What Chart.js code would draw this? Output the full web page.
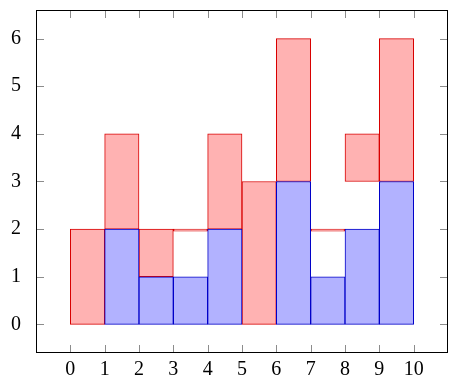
<!DOCTYPE html>
<html>
<head>
<meta charset="utf-8">
<script src="https://cdn.jsdelivr.net/npm/chart.js@4/dist/chart.umd.min.js"></script>
<style>
  html, body { margin: 0; padding: 0; background: #fff; }
  canvas { display: block; }
</style>
</head>
<body>
<canvas id="chart" width="460" height="386"></canvas>
<script>
// Interval starts (each bar covers [start, start + 1])
const intervals = [0, 1, 2, 3, 4, 5, 6, 7, 8, 9];

// Blue series heights
const blueValues = [0, 2, 1, 1, 2, 0, 3, 1, 2, 3];

// Red series as drawn: bottom and top of each interval
const redBottom = [0, 2, 1, 2, 2, 0, 3, 2, 3, 3];
const redTop    = [2, 4, 2, 2, 4, 3, 6, 2, 4, 6];

// Tick labels
const xTicks = [0, 1, 2, 3, 4, 5, 6, 7, 8, 9, 10];
const yTicks = [0, 1, 2, 3, 4, 5, 6];

const FONT = { family: "'Liberation Serif', 'DejaVu Serif', serif", size: 20 };

// Frame and inward tick marks on all four sides, like pgfplots
const framePlugin = {
  id: 'frame',
  afterDatasetsDraw(chart) {
    const { ctx, chartArea: a, scales: { x, y } } = chart;
    const len = 8;
    ctx.save();
    ctx.lineWidth = 1;
    ctx.strokeStyle = '#8c8c8c';
    ctx.beginPath();
    xTicks.forEach(v => {
      const px = Math.round(x.getPixelForValue(v)) + 0.5;
      ctx.moveTo(px, a.bottom); ctx.lineTo(px, a.bottom - len);
      ctx.moveTo(px, a.top); ctx.lineTo(px, a.top + len);
    });
    yTicks.forEach(v => {
      const py = Math.round(y.getPixelForValue(v)) + 0.5;
      ctx.moveTo(a.left, py); ctx.lineTo(a.left + len, py);
      ctx.moveTo(a.right, py); ctx.lineTo(a.right - len, py);
    });
    ctx.stroke();
    ctx.strokeStyle = '#000';
    ctx.strokeRect(Math.round(a.left) + 0.5, Math.round(a.top) + 0.5,
      Math.round(a.right - a.left) - 1, Math.round(a.bottom - a.top) - 1);
    ctx.restore();
  },
};

new Chart(document.getElementById('chart'), {
  type: 'bar',
  data: {
    datasets: [
      {
        label: 'blue',
        data: intervals.map((s, i) => ({ x: s + 0.5, y: [0, blueValues[i]] })),
        backgroundColor: '#b2b2ff',
        borderColor: '#0000c8',
        borderWidth: 1,
        borderSkipped: false,
        barPercentage: 1,
        categoryPercentage: 1,
        grouped: false,
      },
      {
        label: 'red',
        data: intervals.map((s, i) => ({ x: s + 0.5, y: [redBottom[i], redTop[i]] })),
        backgroundColor: '#ffb2b2',
        borderColor: '#d80000',
        borderWidth: 1,
        borderSkipped: false,
        barPercentage: 1,
        categoryPercentage: 1,
        grouped: false,
        minBarLength: 2,
      },
    ],
  },
  options: {
    responsive: false,
    animation: false,
    layout: { padding: { top: 10, right: 12, left: 0, bottom: 0 } },
    plugins: { legend: { display: false }, tooltip: { enabled: false } },
    scales: {
      x: {
        type: 'linear',
        min: -1,
        max: 11,
        offset: false,
        grid: { display: false, offset: false },
        border: { display: false },
        afterBuildTicks: s => { s.ticks = xTicks.map(v => ({ value: v })); },
        afterFit: s => { s.height = 33; s.paddingLeft = 0; s.paddingRight = 0; },
        ticks: { color: '#000', font: FONT, padding: -3, maxRotation: 0, autoSkip: false },
      },
      y: {
        type: 'linear',
        min: -0.6,
        max: 6.6,
        grid: { display: false },
        border: { display: false },
        afterBuildTicks: s => { s.ticks = yTicks.map(v => ({ value: v })); },
        afterFit: s => { s.width = 36; s.paddingTop = 0; s.paddingBottom = 0; },
        ticks: { color: '#000', font: FONT, padding: 7 },
      },
    },
  },
  plugins: [framePlugin],
});
</script>
</body>
</html>
